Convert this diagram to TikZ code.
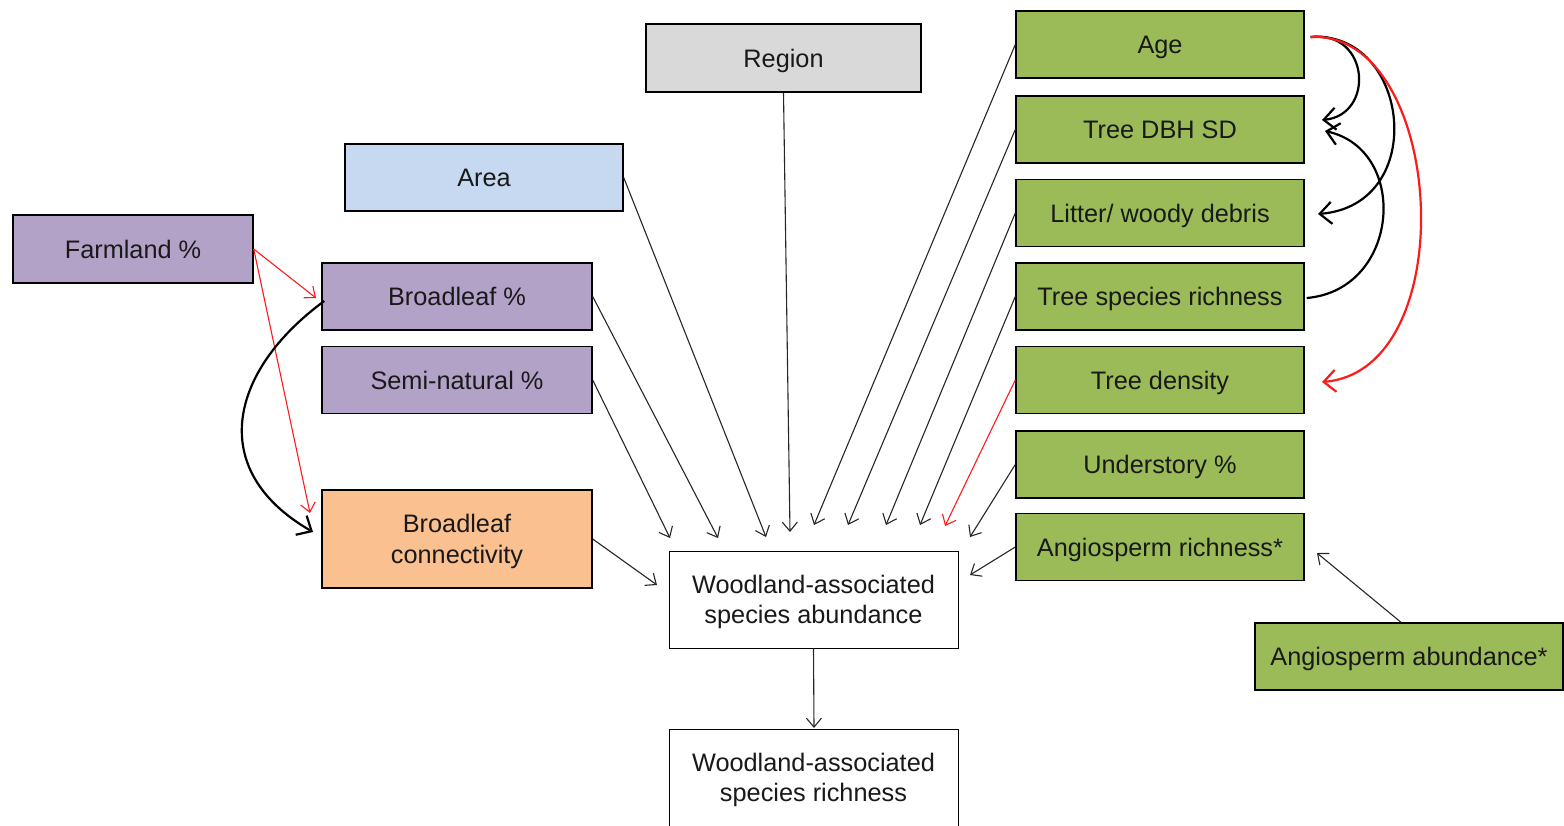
\documentclass[tikz,border=0pt]{standalone}
\usepackage{fontspec}
\setmainfont{Liberation Sans}
\usetikzlibrary{arrows.meta}
\definecolor{grayfill}{HTML}{D9D9D9}
\definecolor{bluefill}{HTML}{C6D9F1}
\definecolor{purplefill}{HTML}{B3A2C7}
\definecolor{orangefill}{HTML}{FAC090}
\definecolor{greenfill}{HTML}{9BBB59}
\definecolor{linkred}{HTML}{FF1A1A}
\begin{document}
\begin{tikzpicture}[x=1pt,y=-1pt,
  box/.style={draw=black, line width=1.4pt, rectangle, inner sep=0pt, align=center,
    text depth=0pt, font=\fontsize{25.3}{30.5}\selectfont, text=black!90},
  wbox/.style={box, line width=1pt, fill=white, minimum width=289pt, minimum height=97pt},
  gbox/.style={box, fill=greenfill, minimum width=288pt, minimum height=67pt},
  pbox/.style={box, fill=purplefill, minimum width=270pt, minimum height=67pt},
  link/.style={line width=1.1pt, draw=black!85, -{Straight Barb[length=9pt,width=15pt]}},
  redlink/.style={link, draw=linkred},
  curvelink/.style={line width=2.2pt, draw=black, -{Straight Barb[length=12pt,width=22pt]}},
  redcurvelink/.style={curvelink, draw=linkred}]
\clip (0,0) rectangle (1564,825);

% boxes
\node[box, fill=grayfill, minimum width=275pt, minimum height=68pt] (region) at (783.5,58) {Region};
\node[box, fill=bluefill, minimum width=278pt, minimum height=67pt] (area) at (484,177.5) {Area};
\node[box, fill=purplefill, minimum width=240pt, minimum height=68pt] (farm) at (133,249) {Farmland \%};
\node[pbox] (broad) at (457,296.5) {Broadleaf \%};
\node[pbox] (semi) at (457,380) {Semi-natural \%};
\node[box, fill=orangefill, minimum width=270pt, minimum height=98pt] (conn) at (457,539) {Broadleaf\\connectivity};
\node[wbox] (abund) at (813.5,599.5) {Woodland-associated\\species abundance};
\node[wbox] (rich) at (813.5,777.5) {Woodland-associated\\species richness};

\node[gbox] (age) at (1160,44.5) {Age};
\node[gbox] (dbh) at (1160,129.5) {Tree DBH SD};
\node[gbox] (litter) at (1160,213) {Litter/ woody debris};
\node[gbox] (tsr) at (1160,296.5) {Tree species richness};
\node[gbox] (dens) at (1160,380) {Tree density};
\node[gbox] (under) at (1160,464.5) {Understory \%};
\node[gbox] (angr) at (1160,547) {Angiosperm richness*};
\node[box, fill=greenfill, minimum width=308pt, minimum height=67pt] (anga) at (1409,656.5) {Angiosperm abundance*};

% free arrow ends near the abundance box
\coordinate (eArea) at (766,537);
\coordinate (eRegion) at (790,532);
\coordinate (eBroad) at (718,538);
\coordinate (eSemi) at (670,538);
\coordinate (eConn) at (657,585);
\coordinate (eAge) at (814,525);
\coordinate (eDbh) at (848,525);
\coordinate (eLitter) at (886,525);
\coordinate (eTsr) at (920,525);
\coordinate (eDens) at (945,526);
\coordinate (eUnder) at (970,537);
\coordinate (eAngr) at (970,575);
\coordinate (eAnga) at (1317,553);
\coordinate (eRich) at (814,728);
\coordinate (eFarmB) at (316,298);
\coordinate (eFarmC) at (310,513);
\coordinate (eCurve) at (313,532);
\coordinate (eToDbhA) at (1322,120);
\coordinate (eToLitter) at (1318,214);
\coordinate (eToDbhB) at (1325,131);
\coordinate (eToDens) at (1322,382);

% direct effects on abundance
\draw[link] (area.east) -- (eArea);
\draw[link] (region.south) -- (eRegion);
\draw[link] (broad.east) -- (eBroad);
\draw[link] (semi.east) -- (eSemi);
\draw[link] (conn.east) -- (eConn);
\draw[link] (age.west) -- (eAge);
\draw[link] (dbh.west) -- (eDbh);
\draw[link] (litter.west) -- (eLitter);
\draw[link] (tsr.west) -- (eTsr);
\draw[redlink] (dens.west) -- (eDens);
\draw[link] (under.west) -- (eUnder);
\draw[link] (angr.west) -- (eAngr);
\draw[link] ([xshift=-8pt]anga.north) -- (eAnga);
\draw[link] (abund.south) -- (eRich);

% landscape links
\draw[redlink] (farm.east) -- (eFarmB);
\draw[redlink] (farm.east) -- (eFarmC);
\draw[curvelink] ([xshift=3pt,yshift=-4.5pt]broad.west) .. controls (230,370) and (205,470) .. (eCurve);

% stand structure links
\draw[curvelink] ([xshift=6pt,yshift=7.5pt]age.east) .. controls (1370,30) and (1375,115) .. (eToDbhA);
\draw[curvelink] ([xshift=6pt,yshift=7.5pt]age.east) .. controls (1410,30) and (1430,205) .. (eToLitter);
\draw[curvelink] ([xshift=2pt,yshift=-1.5pt]tsr.east) .. controls (1400,290) and (1410,150) .. (eToDbhB);
\draw[redcurvelink] ([xshift=6pt,yshift=7.5pt]age.east) .. controls (1445,30) and (1465,370) .. (eToDens);
\end{tikzpicture}
\end{document}
